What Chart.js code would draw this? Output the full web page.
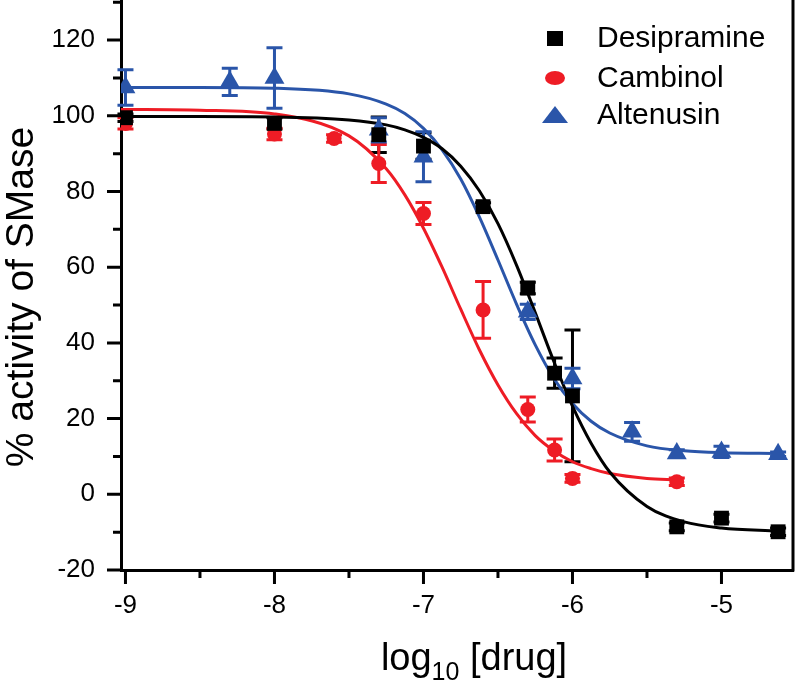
<!DOCTYPE html>
<html>
<head>
<meta charset="utf-8">
<script src="https://cdn.jsdelivr.net/npm/chart.js@4.4.1/dist/chart.umd.min.js"></script>
<style>
  html, body { margin: 0; padding: 0; background: #fff; }
  #wrap { width: 797px; height: 689px; }
</style>
</head>
<body>
<div id="wrap"><canvas id="myChart" width="797" height="689"></canvas></div>
<script>
// measured points, log10 of the dose against % activity
const desiX = [-9, -8, -7.3, -7, -6.6, -6.3, -6.12, -6, -5.3, -5, -4.62];
const desiY = [99.5, 98, 95, 92, 76, 54.5, 32, 26, -8.6, -6.3, -9.9];
const desiErr = [1, 1.5, 4.7, 3.5, 1, 1.5, 4, 17.4, 1, 1, 1];

const cambX = [-9, -8, -7.6, -7.3, -7, -6.6, -6.3, -6.12, -6, -5.3];
const cambY = [98, 95.2, 94, 87.4, 74.2, 48.7, 22.4, 11.7, 4.2, 3.3];
const cambErr = [1.5, 1.5, 1, 5, 2.9, 7.5, 3.3, 2.9, 1, 1];

const altX = [-9, -8.3, -8, -7.3, -7, -6.3, -6, -5.6, -5.3, -5, -4.62];
const altY = [107.5, 109, 110, 96.3, 89.2, 48.2, 30.6, 16.5, 10.8, 11.2, 10.6];
const altErr = [4.7, 3.6, 8, 3.2, 6.6, 2, 2.7, 2.5, 1, 1.5, 0.6];

// fitted curves
const desiCurveX = [-9.03, -8.5, -8, -7.5, -7.25, -7.125, -7, -6.875, -6.75, -6.625, -6.5, -6.375, -6.25, -6.125, -6, -5.875, -5.75, -5.5, -5.25, -5, -4.62];
const desiCurveY = [99.8, 99.8, 99.7, 98.9, 97.6, 96.3, 94.3, 91.3, 86.7, 80.2, 71.5, 60.5, 48, 35.1, 23.3, 13.5, 5.9, -3.2, -7.3, -8.9, -9.7];

const cambCurveX = [-9.03, -8.5, -8, -7.5, -7.25, -7.125, -7, -6.875, -6.75, -6.625, -6.5, -6.375, -6.25, -6.125, -6, -5.875, -5.75, -5.5, -5.3];
const cambCurveY = [101.7, 101.5, 100.5, 94.7, 86, 79.1, 70.3, 60, 48.9, 38.2, 28.9, 21.3, 15.5, 11.5, 8.6, 6.8, 5.5, 4.2, 3.8];

const altCurveX = [-9.03, -8.5, -8, -7.5, -7.25, -7.125, -7, -6.875, -6.75, -6.625, -6.5, -6.375, -6.25, -6.125, -6, -5.875, -5.75, -5.5, -5.25, -5, -4.62];
const altCurveY = [107.5, 107.5, 107.3, 105.8, 103.1, 100.6, 96.7, 91, 83.3, 73.3, 61.9, 50.2, 39.5, 30.6, 24, 19.3, 16.2, 12.8, 11.5, 11, 10.8];

const xTickVals = [-9, -8.5, -8, -7.5, -7, -6.5, -6, -5.5, -5];
const yTickVals = [-20, -10, 0, 10, 20, 30, 40, 50, 60, 70, 80, 90, 100, 110, 120, 130];

const names = ['Desipramine', 'Cambinol', 'Altenusin'];
const yTitle = '% activity of SMase';
const black = '#000000';
const red = '#ee1c25';
const blue = '#2a55a9';
const FONT = '"Liberation Sans", Arial, sans-serif';

function pts(xs, ys) {
    return xs.map(function (x, i) { return { x: x, y: ys[i] }; });
}

// error bars, drawn under the markers
const errorBars = {
    id: 'errorBars',
    beforeDatasetsDraw(chart) {
        const ctx = chart.ctx;
        const sx = chart.scales.x, sy = chart.scales.y;
        const groups = [
            [desiX, desiY, desiErr, black],
            [cambX, cambY, cambErr, red],
            [altX, altY, altErr, blue]
        ];
        ctx.save();
        ctx.lineWidth = 3;
        groups.forEach(function (g) {
            ctx.strokeStyle = g[3];
            g[0].forEach(function (x, i) {
                const px = sx.getPixelForValue(x);
                const top = sy.getPixelForValue(g[1][i] + g[2][i]);
                const bot = sy.getPixelForValue(g[1][i] - g[2][i]);
                ctx.beginPath();
                ctx.moveTo(px, top); ctx.lineTo(px, bot);
                ctx.moveTo(px - 8, top); ctx.lineTo(px + 8, top);
                ctx.moveTo(px - 8, bot); ctx.lineTo(px + 8, bot);
                ctx.stroke();
            });
        });
        ctx.restore();
    }
};

// frame, tick marks, axis titles and legend
const frame = {
    id: 'frame',
    afterDraw(chart) {
        const ctx = chart.ctx;
        const a = chart.chartArea;
        const sx = chart.scales.x, sy = chart.scales.y;
        ctx.save();
        ctx.strokeStyle = '#000';
        ctx.lineWidth = 3;
        ctx.beginPath();
        ctx.moveTo(a.right, a.top); ctx.lineTo(a.right, a.bottom + 1.5);
        ctx.stroke();

        ctx.beginPath();
        xTickVals.forEach(function (v) {
            const px = sx.getPixelForValue(v);
            const len = Number.isInteger(v) ? 14 : 8;
            ctx.moveTo(px, a.bottom); ctx.lineTo(px, a.bottom + len);
        });
        yTickVals.forEach(function (v) {
            const py = sy.getPixelForValue(v);
            const len = v % 20 === 0 ? 14 : 8;
            ctx.moveTo(a.left, py); ctx.lineTo(a.left - len, py);
        });
        ctx.stroke();

        // y title
        ctx.fillStyle = '#000';
        ctx.save();
        ctx.translate(22, 297);
        ctx.rotate(-Math.PI / 2);
        ctx.font = '39px ' + FONT;
        ctx.textAlign = 'center';
        ctx.textBaseline = 'middle';
        ctx.fillText(yTitle, 0, 0);
        ctx.restore();

        // x title with subscript
        ctx.textBaseline = 'alphabetic';
        ctx.textAlign = 'left';
        const big = '38px ' + FONT, small = '25px ' + FONT;
        ctx.font = big;
        const w1 = ctx.measureText('log').width;
        const w3 = ctx.measureText(' [drug]').width;
        ctx.font = small;
        const w2 = ctx.measureText('10').width;
        let tx = 474 - (w1 + w2 + w3) / 2;
        const base = 670;
        ctx.font = big; ctx.fillText('log', tx, base); tx += w1;
        ctx.font = small; ctx.fillText('10', tx, base + 10); tx += w2;
        ctx.font = big; ctx.fillText(' [drug]', tx, base);

        // legend
        const rows = [38, 78, 115];
        const mx = 555;
        ctx.fillStyle = black;
        ctx.fillRect(mx - 8, rows[0] - 7, 16, 15);
        ctx.fillStyle = red;
        ctx.beginPath();
        ctx.ellipse(mx, rows[1], 10, 7, 0, 0, Math.PI * 2);
        ctx.fill();
        ctx.fillStyle = blue;
        ctx.beginPath();
        ctx.moveTo(mx, rows[2] - 9);
        ctx.lineTo(mx + 13, rows[2] + 8);
        ctx.lineTo(mx - 13, rows[2] + 8);
        ctx.closePath();
        ctx.fill();
        ctx.fillStyle = '#000';
        ctx.font = '30px ' + FONT;
        ctx.textBaseline = 'middle';
        names.forEach(function (n, i) { ctx.fillText(n, 597, rows[i] + 1); });
        ctx.restore();
    }
};

const ctx = document.getElementById('myChart').getContext('2d');
const myChart = new Chart(ctx, {
    type: 'scatter',
    data: {
        datasets: [
            { label: names[0], data: pts(desiX, desiY), pointStyle: 'rect', pointRadius: 10.5, backgroundColor: black, borderColor: black, borderWidth: 0 },
            { label: names[1], data: pts(cambX, cambY), pointStyle: 'circle', pointRadius: 7.5, backgroundColor: red, borderColor: red, borderWidth: 0 },
            { label: names[2], data: pts(altX, altY), pointStyle: 'triangle', pointRadius: 11.5, backgroundColor: blue, borderColor: blue, borderWidth: 0 },
            { label: 'fit1', data: pts(desiCurveX, desiCurveY), showLine: true, pointRadius: 0, borderColor: black, borderWidth: 3, cubicInterpolationMode: 'monotone' },
            { label: 'fit2', data: pts(cambCurveX, cambCurveY), showLine: true, pointRadius: 0, borderColor: red, borderWidth: 3, cubicInterpolationMode: 'monotone' },
            { label: 'fit3', data: pts(altCurveX, altCurveY), showLine: true, pointRadius: 0, borderColor: blue, borderWidth: 3, cubicInterpolationMode: 'monotone' }
        ]
    },
    options: {
        responsive: false,
        animation: false,
        layout: { autoPadding: false, padding: { left: 0, right: 4, top: 0, bottom: 0 } },
        plugins: { legend: { display: false }, tooltip: { enabled: false } },
        scales: {
            x: {
                type: 'linear',
                min: -9.03,
                max: -4.52,
                afterBuildTicks: function (s) { s.ticks = xTickVals.map(function (v) { return { value: v }; }); },
                afterFit: function (s) { s.height = 119; s.paddingLeft = 0; s.paddingRight = 0; },
                ticks: {
                    callback: function (v) { return Number.isInteger(v) ? String(v) : null; },
                    font: { size: 26, family: FONT },
                    color: '#000',
                    padding: 6,
                    maxRotation: 0,
                    autoSkip: false
                },
                grid: { display: true, drawOnChartArea: false, tickLength: 14, tickColor: 'rgba(0,0,0,0)' },
                border: { color: '#000', width: 3 }
            },
            y: {
                min: -20,
                max: 130.6,
                afterBuildTicks: function (s) { s.ticks = yTickVals.map(function (v) { return { value: v }; }); },
                afterFit: function (s) { s.width = 121; s.paddingTop = 0; s.paddingBottom = 0; },
                ticks: {
                    callback: function (v) { return (v % 20 === 0 && v <= 120) ? String(v) : null; },
                    font: { size: 26, family: FONT },
                    color: '#000',
                    padding: 12,
                    autoSkip: false
                },
                grid: { display: true, drawOnChartArea: false, tickLength: 14, tickColor: 'rgba(0,0,0,0)' },
                border: { color: '#000', width: 3 }
            }
        }
    },
    plugins: [errorBars, frame]
});
</script>
</body>
</html>
